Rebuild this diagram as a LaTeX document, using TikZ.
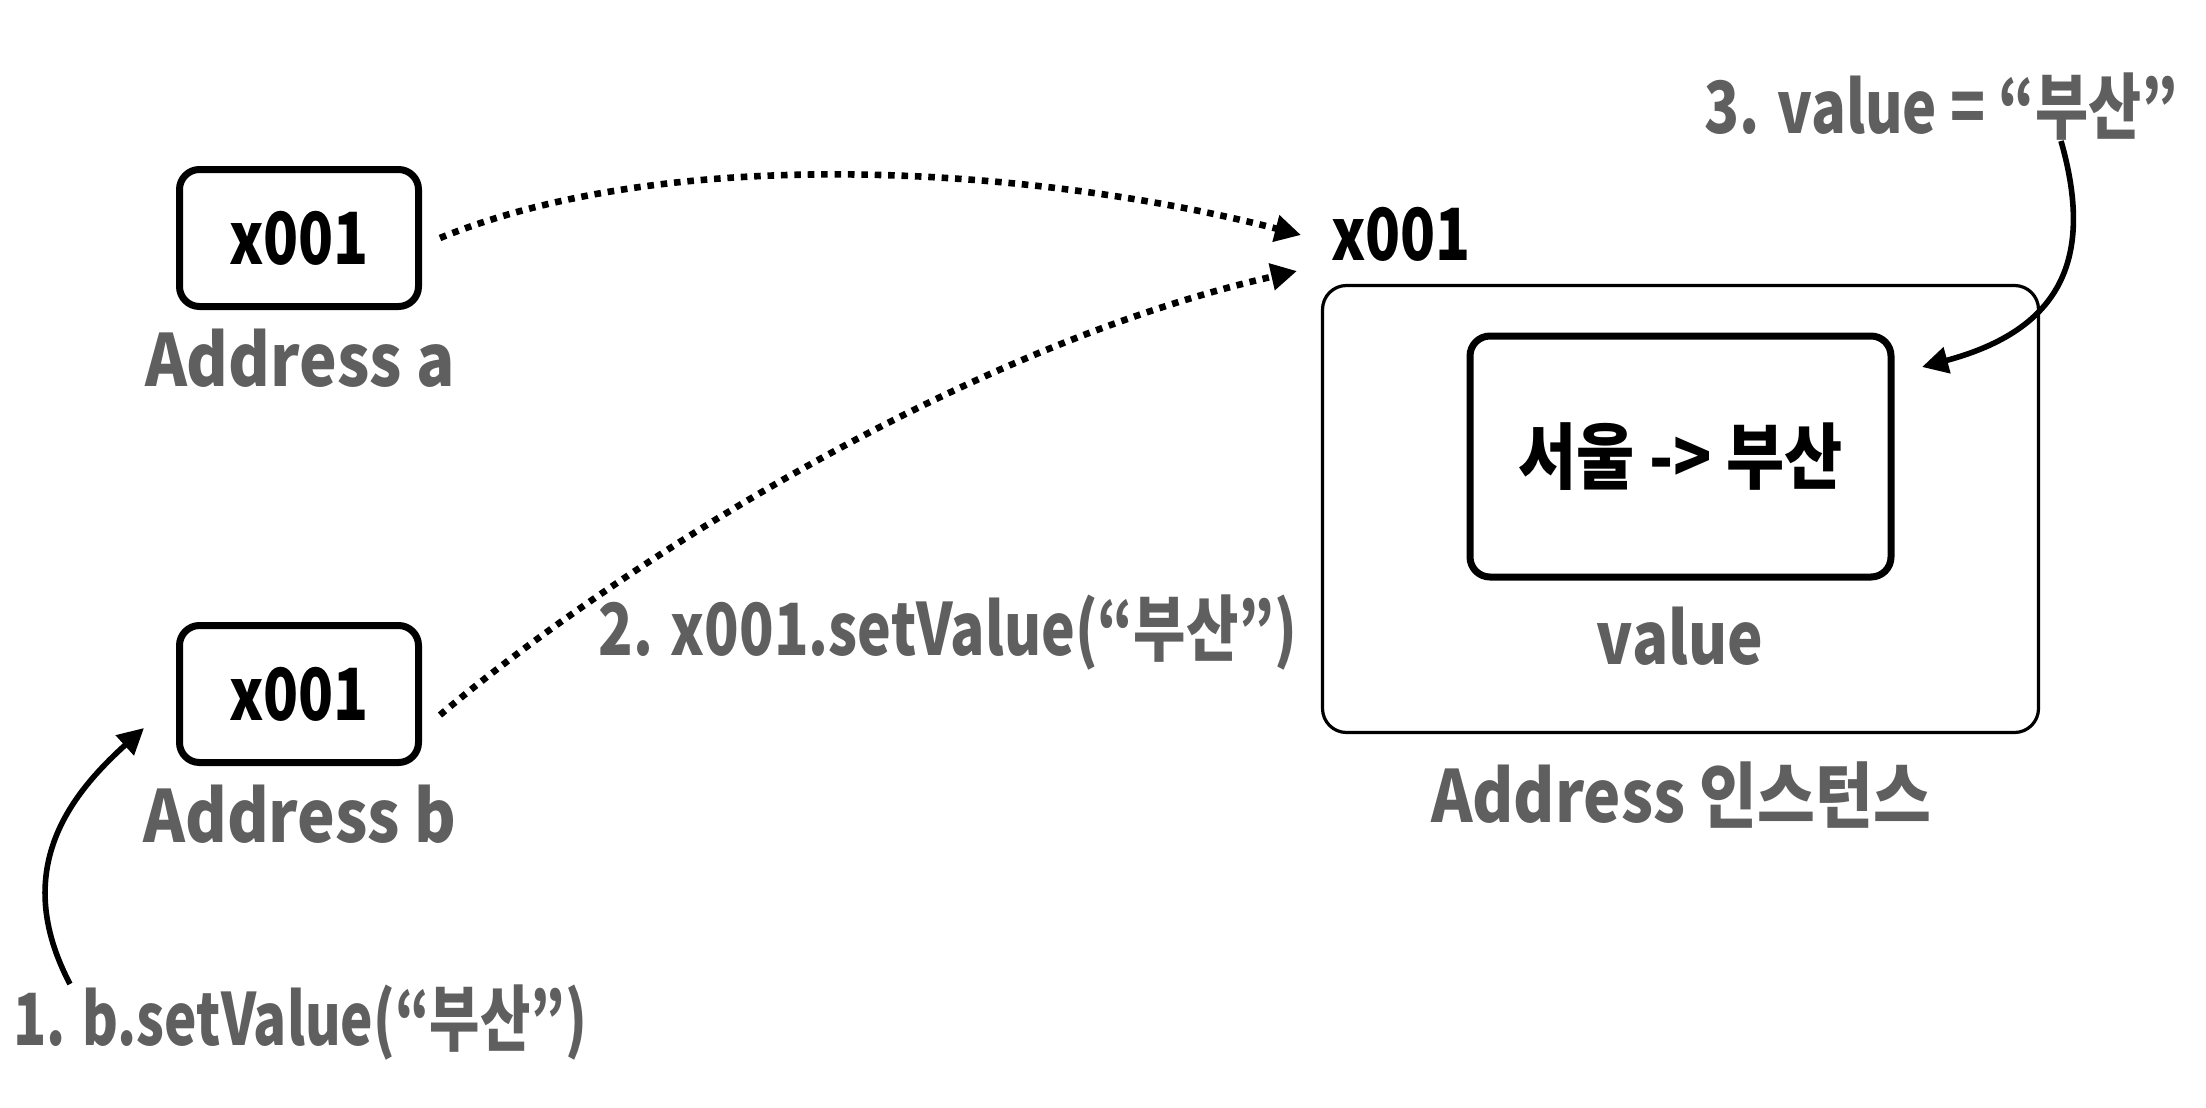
\documentclass[tikz,border=0pt]{standalone}
\usepackage{fontspec}
\usepackage{graphicx}
\newfontfamily\kr{Noto Sans CJK KR}[FakeStretch=0.9]
\usetikzlibrary{arrows.meta}
\definecolor{lblgray}{HTML}{5F5F5F}
\newcommand{\hs}[2]{\scalebox{#1}[1]{#2}}
\begin{document}
\begin{tikzpicture}[x=0.5pt,y=-0.5pt,
  every node/.style={font=\kr\bfseries\fontsize{36}{40}\selectfont, inner sep=0pt},
  addr/.style={draw, line width=3.5pt, rounded corners=10pt, minimum width=119.5pt, minimum height=68.5pt},
  graytext/.style={text=lblgray},
  dotline/.style={line width=3.3pt, dash pattern=on 3.3pt off 3.4pt, -{Triangle[length=13pt,width=13pt]}},
  solidarrow/.style={line width=2.8pt, -{Triangle[length=13pt,width=13pt]}},
]
\useasboundingbox[fill=white] (0,0) rectangle (2206,1108);
% left pointers
\node[addr] (a) at (299,238) {\hs{0.89}{x001}};
\node[graytext, anchor=base] (la) at (300,386) {\hs{0.98}{Address a}};
\node[addr] (b) at (299,694) {\hs{0.89}{x001}};
\node[graytext, anchor=base] (lb) at (300,842) {\hs{0.98}{Address b}};
% instance
\node[anchor=base] (ptr) at (1401,260) {\hs{0.89}{x001}};
\node[draw, line width=1.6pt, rounded corners=12pt, minimum width=358pt, minimum height=223.5pt] (inst) at (1680.5,509) {};
\node[draw, line width=3.5pt, rounded corners=10pt, minimum width=210.5pt, minimum height=120.5pt] (inner) at (1680.5,456.5) {\hs{0.975}{서울 -> 부산}};
\node[graytext, anchor=base] (val) at (1680,664) {\hs{0.925}{value}};
\node[graytext, anchor=base] (inl) at (1681,822) {\hs{0.97}{Address 인스턴스}};
% step labels
\node[graytext, anchor=base] (s3) at (1941,133) {\hs{0.89}{3. value = “부산”}};
\node[graytext, anchor=base] (s2) at (948,655) {\hs{0.878}{2. x001.setValue(“부산”)}};
\node[graytext, anchor=base] (s1) at (300,1045) {\hs{0.844}{1. b.setValue(“부산”)}};
% connector ends
\coordinate (t1) at (1301,235);
\coordinate (t2) at (1297,271);
\coordinate (s1start) at (70,984);
\coordinate (s3start) at (2061,141);
% connectors
\draw[dotline] ([xshift=9pt]a.east) .. controls (680,140) and (1050,170) .. (t1);
\draw[dotline] ([xshift=9pt,yshift=-10.5pt]b.east) .. controls (600,580) and (950,350) .. (t2);
\draw[solidarrow] (s1start) .. controls (10,870) and (70,795) .. ([xshift=-16pt,yshift=-17pt]b.west);
\draw[solidarrow] (s3start) .. controls (2095,260) and (2060,330) .. ([xshift=13.75pt,yshift=-17.25pt]inner.north east);
\end{tikzpicture}
\end{document}
